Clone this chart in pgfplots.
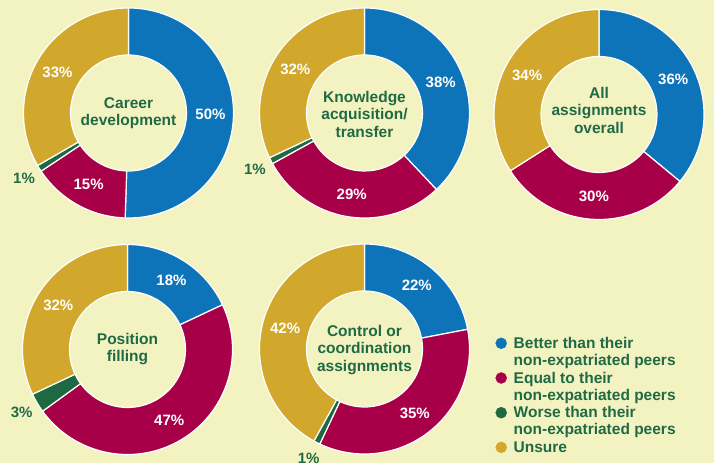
\documentclass[border=0pt]{standalone}
\usepackage{pgfplots}
\pgfplotsset{compat=1.18}
\usepackage{pgfplotstable}
\usepackage{fontspec}
\setmainfont{Liberation Sans}
\definecolor{bg}{RGB}{243,243,194}
\definecolor{cblue}{RGB}{14,116,186}
\definecolor{cred}{RGB}{168,0,72}
\definecolor{cgreen}{RGB}{30,104,66}
\definecolor{cgold}{RGB}{209,168,44}
\definecolor{tgreen}{RGB}{31,106,68}

% one row per donut: centre (x,y) and shares Better / Equal / Worse / Unsure
\pgfplotstableread{
cx    cy    B  E  W U
128.5 350   50 15 1 33
364.5 350   38 29 1 32
599   348.5 36 30 0 34
127.5 113.5 18 47 3 32
364.5 114   22 35 1 42
}\donuts

\def\Ro{105}
\def\Ri{58}
\def\Rl{82}
\def\Rout{123}
\newcommand\lbl{\fontsize{15}{17}\selectfont\bfseries}
\newcommand\ttl{\fontsize{15.5}{17.5}\selectfont\bfseries}
\newcommand\donutcode{}
\newcommand\addtocode[1]{\xdef\donutcode{\unexpanded\expandafter{\donutcode}#1}}
\newcommand\doseg[4]{%
  \pgfmathsetmacro\segspan{#3/\segsum*360}%
  \ifdim\segspan pt>0.01pt
    \pgfmathsetmacro\aA{\curang}%
    \pgfmathsetmacro\aB{\curang-\segspan}%
    \pgfmathsetmacro\xa{#1+\Ro*cos(\aA)}%
    \pgfmathsetmacro\ya{#2+\Ro*sin(\aA)}%
    \pgfmathsetmacro\xb{#1+\Ri*cos(\aB)}%
    \pgfmathsetmacro\yb{#2+\Ri*sin(\aB)}%
    \pgfmathsetmacro\aM{(\aA+\aB)/2}%
    \addtocode{\noexpand\fill[#4,draw=white,line width=1.2pt,line join=round]
      (axis cs:\xa,\ya) arc[start angle=\aA,end angle=\aB,radius=\Ro pt]
      -- (axis cs:\xb,\yb) arc[start angle=\aB,end angle=\aA,radius=\Ri pt] -- cycle;}%
    \ifdim #3pt<5pt
      \pgfmathsetmacro\xl{#1+\Rout*cos(\aM)}%
      \pgfmathsetmacro\yl{#2+\Rout*sin(\aM)}%
      \addtocode{\noexpand\node[text=tgreen,font=\noexpand\lbl,inner sep=0pt] at (axis cs:\xl,\yl) {#3\noexpand\%};}%
    \else
      \pgfmathsetmacro\xl{#1+\Rl*cos(\aM)}%
      \pgfmathsetmacro\yl{#2+\Rl*sin(\aM)}%
      \addtocode{\noexpand\node[text=white,font=\noexpand\lbl,inner sep=0pt] at (axis cs:\xl,\yl) {#3\noexpand\%};}%
    \fi
    \global\let\curang\aB
  \fi}

\foreach \r in {0,...,4}{%
  \pgfplotstablegetelem{\r}{cx}\of\donuts \let\cx\pgfplotsretval
  \pgfplotstablegetelem{\r}{cy}\of\donuts \let\cy\pgfplotsretval
  \pgfplotstablegetelem{\r}{B}\of\donuts \let\vB\pgfplotsretval
  \pgfplotstablegetelem{\r}{E}\of\donuts \let\vE\pgfplotsretval
  \pgfplotstablegetelem{\r}{W}\of\donuts \let\vW\pgfplotsretval
  \pgfplotstablegetelem{\r}{U}\of\donuts \let\vU\pgfplotsretval
  \pgfmathsetmacro\segsum{\vB+\vE+\vW+\vU}%
  \gdef\curang{90}%
  \doseg{\cx}{\cy}{\vB}{cblue}%
  \doseg{\cx}{\cy}{\vE}{cred}%
  \doseg{\cx}{\cy}{\vW}{cgreen}%
  \doseg{\cx}{\cy}{\vU}{cgold}%
}
\newcommand\two[2]{\begin{tabular}[t]{@{}l@{}}#1\\#2\end{tabular}}

\begin{document}
\begin{tikzpicture}
\begin{axis}[
  width=714pt, height=463pt, scale only axis,
  xmin=0, xmax=714, ymin=0, ymax=463,
  hide axis, clip=false,
  legend image code/.code={\fill (0pt,5pt) circle (5.5pt);},
  legend style={at={(axis cs:495.5,126.6)}, anchor=north west,
    draw=none, fill=none, inner sep=0pt, outer sep=0pt,
    row sep=21.3pt, column sep=6.8pt,
    font=\fontsize{15.5}{17}\selectfont\bfseries, text=tgreen,
    nodes={inner sep=0pt, anchor=base west}},
]
\fill[bg] (axis cs:0,0) rectangle (axis cs:714,463);
\donutcode
\node[text=tgreen,font=\ttl,align=center] at (axis cs:128.5,350) {Career\\development};
\node[text=tgreen,font=\ttl,align=center] at (axis cs:364.5,349) {Knowledge\\acquisition/\\transfer};
\node[text=tgreen,font=\ttl,align=center] at (axis cs:599,353) {All\\assignments\\overall};
\node[text=tgreen,font=\ttl,align=center] at (axis cs:127.5,114) {Position\\filling};
\node[text=tgreen,font=\ttl,align=center] at (axis cs:364.5,113) {Control or\\coordination\\assignments};
\addlegendimage{color=cblue}
\addlegendentry{\two{Better than their}{non-expatriated peers}}
\addlegendimage{color=cred}
\addlegendentry{\two{Equal to their}{non-expatriated peers}}
\addlegendimage{color=cgreen}
\addlegendentry{\two{Worse than their}{non-expatriated peers}}
\addlegendimage{color=cgold}
\addlegendentry{\strut Unsure}
\end{axis}
\pgfresetboundingbox
\useasboundingbox (current axis.south west) rectangle (current axis.north east);
\end{tikzpicture}
\end{document}
